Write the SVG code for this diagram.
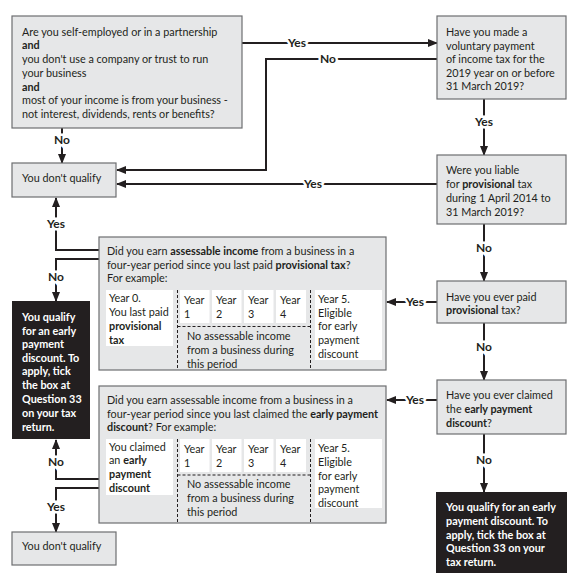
<svg xmlns="http://www.w3.org/2000/svg" width="585" height="588" viewBox="0 0 585 588">
<defs>
<marker id="ah" markerUnits="userSpaceOnUse" markerWidth="10" markerHeight="10" viewBox="0 0 10 10" refX="9" refY="5" orient="auto">
<path d="M0,1 L10,5 L0,9 Z" fill="#231f20"/>
</marker>
<style>
text{font-family:Lato,"Liberation Sans",sans-serif;font-size:10.8px;fill:#231f20}
.b{font-weight:700}
.w{fill:#fff;font-weight:700}
.box{fill:#e6e7e8;stroke:#6d6e70;stroke-width:1.2}
.dark{fill:#231f20}
.cell{fill:#fff}
.dash{stroke:#231f20;stroke-width:1;stroke-dasharray:3,2;fill:none}
.c{fill:none;stroke:#231f20;stroke-width:2;marker-end:url(#ah)}
.lbl{font-weight:700;font-size:12px;text-anchor:middle;stroke:#fff;stroke-width:5;paint-order:stroke}
</style>
</defs>
<rect width="585" height="588" fill="#fff"/>

<g id="connectors">
<path class="c" d="M242,43 H437"/>
<path class="c" d="M437,59 H266 V170 H117"/>
<path class="c" d="M484,99 V155"/>
<path class="c" d="M437,184 H117"/>
<path class="c" d="M62,128 V163"/>
<path class="c" d="M484,224 V281"/>
<path class="c" d="M437,302 H387"/>
<path class="c" d="M99,250 H56 V198"/>
<path class="c" d="M99,259 H56 V301"/>
<path class="c" d="M484,323 V380"/>
<path class="c" d="M437,400 H387"/>
<path class="c" d="M484,434 V492"/>
<path class="c" d="M99,479 H56 V440"/>
<path class="c" d="M99,488 H56 V532"/>
<text class="lbl" x="297" y="47">Yes</text>
<text class="lbl" x="328" y="63">No</text>
<text class="lbl" x="484" y="125.5">Yes</text>
<text class="lbl" x="313" y="188">Yes</text>
<text class="lbl" x="62" y="144">No</text>
<text class="lbl" x="484" y="252">No</text>
<text class="lbl" x="415" y="306">Yes</text>
<text class="lbl" x="56" y="228">Yes</text>
<text class="lbl" x="56" y="281">No</text>
<text class="lbl" x="484" y="351">No</text>
<text class="lbl" x="415" y="404">Yes</text>
<text class="lbl" x="484" y="464">No</text>
<text class="lbl" x="56" y="466">No</text>
<text class="lbl" x="56" y="511">Yes</text>
</g>

<g id="q-self-employed">
<rect class="box" x="12" y="16" width="230" height="112"/>
<text x="22" y="35.5">Are you self-employed or in a partnership</text>
<text x="22" y="49.25" class="b">and</text>
<text x="22" y="63">you don't use a company or trust to run</text>
<text x="22" y="76.75">your business</text>
<text x="22" y="90.5" class="b">and</text>
<text x="22" y="104.25">most of your income is from your business -</text>
<text x="22" y="118">not interest, dividends, rents or benefits?</text>
</g>

<g id="q-voluntary">
<rect class="box" x="437" y="16" width="129" height="83"/>
<text x="446" y="36">Have you made a</text>
<text x="446" y="49.5">voluntary payment</text>
<text x="446" y="63">of income tax for the</text>
<text x="446" y="76.5">2019 year on or before</text>
<text x="446" y="90">31 March 2019?</text>
</g>

<g id="not-qualify-1">
<rect class="box" x="12" y="163" width="104" height="34"/>
<text x="22" y="182">You don't qualify</text>
</g>

<g id="q-liable">
<rect class="box" x="437" y="155" width="129" height="69"/>
<text x="446" y="174">Were you liable</text>
<text x="446" y="188">for <tspan class="b">provisional</tspan> tax</text>
<text x="446" y="202">during 1 April 2014 to</text>
<text x="446" y="215.5">31 March 2019?</text>
</g>

<g id="q-assessable-provisional">
<rect class="box" x="99" y="237" width="287" height="133"/>
<text x="107" y="255">Did you earn <tspan class="b">assessable income</tspan> from a business in a</text>
<text x="107" y="268.5">four-year period since you last paid <tspan class="b">provisional tax</tspan>?</text>
<text x="107" y="282">For example:</text>
<rect class="cell" x="106" y="290" width="67" height="56"/>
<text x="109" y="302">Year 0.</text>
<text x="109" y="316">You last paid</text>
<text x="109" y="330" class="b">provisional</text>
<text x="109" y="344" class="b">tax</text>
<rect class="cell" x="180" y="290" width="29.5" height="33"/>
<rect class="cell" x="212" y="290" width="29.5" height="33"/>
<rect class="cell" x="244" y="290" width="29.5" height="33"/>
<rect class="cell" x="276" y="290" width="30" height="33"/>
<text x="184" y="304">Year</text><text x="184" y="317.5">1</text>
<text x="216" y="304">Year</text><text x="216" y="317.5">2</text>
<text x="248" y="304">Year</text><text x="248" y="317.5">3</text>
<text x="280" y="304">Year</text><text x="280" y="317.5">4</text>
<path class="dash" d="M177.5,290 V370 M310.5,290 V370 M177.5,326.5 H310.5"/>
<text x="187" y="340">No assessable income</text>
<text x="187" y="354">from a business during</text>
<text x="187" y="367.5">this period</text>
<rect class="cell" x="315" y="290" width="67" height="70"/>
<text x="318" y="303">Year 5.</text>
<text x="318" y="316.5">Eligible</text>
<text x="318" y="330">for early</text>
<text x="318" y="344">payment</text>
<text x="318" y="358">discount</text>
</g>

<g id="q-paid-provisional">
<rect class="box" x="437" y="281" width="129" height="42"/>
<text x="446" y="300.5">Have you ever paid</text>
<text x="446" y="314"><tspan class="b">provisional</tspan> tax?</text>
</g>

<g id="qualify-1">
<rect class="dark" x="12" y="301" width="78" height="138"/>
<text class="w" x="22" y="321">You qualify</text>
<text class="w" x="22" y="334.5">for an early</text>
<text class="w" x="22" y="348">payment</text>
<text class="w" x="22" y="361.5">discount. To</text>
<text class="w" x="22" y="375">apply, tick</text>
<text class="w" x="22" y="389">the box at</text>
<text class="w" x="22" y="403">Question 33</text>
<text class="w" x="22" y="416.5">on your tax</text>
<text class="w" x="22" y="430.5">return.</text>
</g>

<g id="q-claimed-discount">
<rect class="box" x="437" y="380" width="129" height="54"/>
<text x="446" y="399">Have you ever claimed</text>
<text x="446" y="413">the <tspan class="b">early payment</tspan></text>
<text x="446" y="426.5" class="b">discount<tspan font-weight="400">?</tspan></text>
</g>

<g id="q-assessable-discount">
<rect class="box" x="99" y="386" width="287" height="137"/>
<text x="107" y="404">Did you earn assessable income from a business in a</text>
<text x="107" y="417.5">four-year period since you last claimed the <tspan class="b">early payment</tspan></text>
<text x="107" y="431"><tspan class="b">discount</tspan>? For example:</text>
<rect class="cell" x="106" y="439" width="67" height="56"/>
<text x="109" y="450.5">You claimed</text>
<text x="109" y="464">an <tspan class="b">early</tspan></text>
<text x="109" y="478" class="b">payment</text>
<text x="109" y="492" class="b">discount</text>
<rect class="cell" x="180" y="439" width="29.5" height="33"/>
<rect class="cell" x="212" y="439" width="29.5" height="33"/>
<rect class="cell" x="244" y="439" width="29.5" height="33"/>
<rect class="cell" x="276" y="439" width="30" height="33"/>
<text x="184" y="453">Year</text><text x="184" y="467">1</text>
<text x="216" y="453">Year</text><text x="216" y="467">2</text>
<text x="248" y="453">Year</text><text x="248" y="467">3</text>
<text x="280" y="453">Year</text><text x="280" y="467">4</text>
<path class="dash" d="M177.5,439 V523 M310.5,439 V523 M177.5,475 H310.5"/>
<text x="187" y="488">No assessable income</text>
<text x="187" y="502">from a business during</text>
<text x="187" y="515.5">this period</text>
<rect class="cell" x="315" y="439" width="67" height="69"/>
<text x="318" y="452">Year 5.</text>
<text x="318" y="466">Eligible</text>
<text x="318" y="480">for early</text>
<text x="318" y="493">payment</text>
<text x="318" y="506.5">discount</text>
</g>

<g id="not-qualify-2">
<rect class="box" x="12" y="532" width="104" height="33"/>
<text x="22" y="550">You don't qualify</text>
</g>

<g id="qualify-2">
<rect class="dark" x="436" y="492" width="131" height="81"/>
<text class="w" x="446" y="510.5">You qualify for an early</text>
<text class="w" x="446" y="524.5">payment discount. To</text>
<text class="w" x="446" y="538.5">apply, tick the box at</text>
<text class="w" x="446" y="552">Question 33 on your</text>
<text class="w" x="446" y="566">tax return.</text>
</g>
</svg>
